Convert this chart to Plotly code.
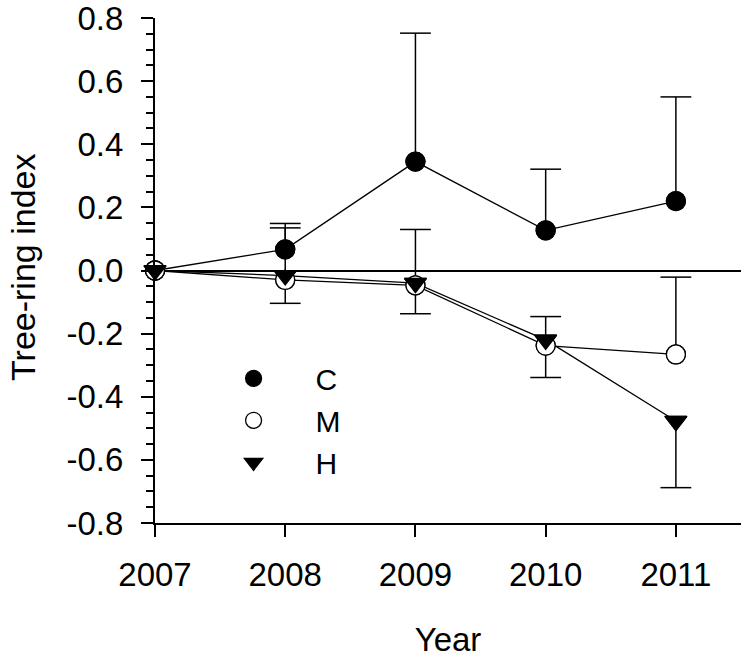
import plotly.graph_objects as go

years = [2007, 2008, 2009, 2010, 2011]

c_vals = [0.0, 0.067, 0.345, 0.127, 0.220]
c_up = [0.0, 0.082, 0.407, 0.194, 0.330]
c_down = [0, 0, 0, 0, 0]

m_vals = [0.0, -0.030, -0.047, -0.238, -0.266]
m_up = [0.0, 0.165, 0.177, 0.092, 0.245]
m_down = [0, 0, 0, 0, 0]

h_vals = [0.0, -0.016, -0.040, -0.220, -0.477]
h_up = [0, 0, 0, 0, 0]
h_down = [0.0, 0.088, 0.097, 0.119, 0.211]

series = [
    ("C", c_vals, c_up, c_down, "circle", "black"),
    ("M", m_vals, m_up, m_down, "circle", "white"),
    ("H", h_vals, h_up, h_down, "triangle-down", "black"),
]

FONT = "Arial, Liberation Sans, sans-serif"
FS = 33
fig = go.Figure()

# stems (no caps) + lines + markers
for name, vals, up, down, sym, fill in series:
    fig.add_trace(go.Scatter(
        x=years, y=vals, mode="lines+markers", showlegend=False,
        line=dict(color="black", width=1.3),
        marker=dict(symbol=sym, size=19, color=fill, line=dict(color="black", width=1.3)),
        error_y=dict(type="data", symmetric=False, array=up, arrayminus=down,
                     width=0, thickness=1.5, color="black"),
        cliponaxis=False,
    ))

# caps of error bars
cap_x, cap_y = [], []
for name, vals, up, down, sym, fill in series:
    for x, v, u, d in zip(years, vals, up, down):
        if u > 0:
            cap_x.append(x); cap_y.append(v + u)
        if d > 0:
            cap_x.append(x); cap_y.append(v - d)
fig.add_trace(go.Scatter(
    x=cap_x, y=cap_y, mode="markers", showlegend=False, hoverinfo="skip",
    marker=dict(symbol="line-ew", size=22, line=dict(color="black", width=1.5)),
    cliponaxis=False,
))

# redraw markers on top of caps
for name, vals, up, down, sym, fill in series:
    fig.add_trace(go.Scatter(
        x=years, y=vals, mode="markers", showlegend=False, hoverinfo="skip",
        marker=dict(symbol=sym, size=19, color=fill, line=dict(color="black", width=1.3)),
        cliponaxis=False,
    ))

# legend entries
for i, (name, vals, up, down, sym, fill) in enumerate(series):
    fig.add_trace(go.Scatter(
        x=[None], y=[None], mode="markers", name=name, legendgroup=name,
        marker=dict(symbol=sym, size=19, color=fill, line=dict(color="black", width=1.3)),
    ))

fig.update_layout(
    width=746, height=658,
    margin=dict(l=155, r=5, t=18, b=135, autoexpand=False),
    paper_bgcolor="white", plot_bgcolor="white",
    font=dict(family=FONT, size=FS, color="black"),
    showlegend=True,
    legend=dict(x=0.0624, y=0.338, xanchor="left", yanchor="top",
                bgcolor="rgba(0,0,0,0)", font=dict(size=30),
                itemwidth=114, tracegroupgap=0),
    xaxis=dict(
        range=[2007, 2011.5], tickvals=years, ticktext=[str(y) for y in years],
        showline=True, linecolor="black", linewidth=2, automargin=False,
        ticks="outside", ticklen=12, tickwidth=1.5, tickcolor="black",
        showgrid=False, zeroline=False, ticklabelstandoff=9,
        ticklabeloverflow="allow",
        title=dict(text="Year", standoff=39, font=dict(size=FS)),
    ),
    yaxis=dict(
        range=[-0.8, 0.8], tickvals=[-0.8, -0.6, -0.4, -0.2, 0.0, 0.2, 0.4, 0.6, 0.8],
        ticktext=["-0.8", "-0.6", "-0.4", "-0.2", "0.0", "0.2", "0.4", "0.6", "0.8"],
        showline=True, linecolor="black", linewidth=2, automargin=False,
        ticks="outside", ticklen=12, tickwidth=1.5, tickcolor="black",
        minor=dict(dtick=0.05, ticks="outside", ticklen=7, tickwidth=1.5, tickcolor="black", showgrid=False),
        showgrid=False, zeroline=True, zerolinecolor="black", zerolinewidth=2,
        ticklabelstandoff=11, ticklabeloverflow="allow",
    ),
    annotations=[dict(
        text="Tree-ring index", xref="paper", yref="paper", x=-0.2253, y=0.507,
        xanchor="center", yanchor="middle", textangle=-90, showarrow=False,
        borderpad=0, font=dict(size=34, family=FONT, color="black"),
    )],
)

fig.write_html("out.html", config={"displayModeBar": False},
               post_script="document.body.style.margin='0';")
